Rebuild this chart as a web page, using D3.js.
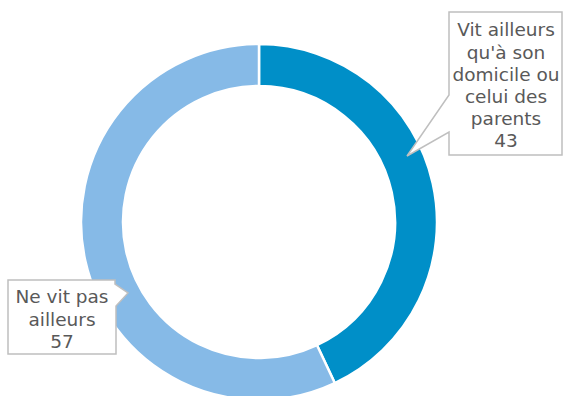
<!DOCTYPE html>
<html>
<head>
<meta charset="utf-8">
<script src="https://cdn.jsdelivr.net/npm/d3@7"></script>
<style>
html,body{margin:0;padding:0;background:#fff;}
svg{display:block;}
text{font-family:"DejaVu Sans",Verdana,sans-serif;}
</style>
</head>
<body>
<svg id="chart" width="563" height="396"></svg>
<script>
const categories = ["Vit ailleurs qu'à son domicile ou celui des parents", "Ne vit pas ailleurs"];
const values = [43, 57];
const labelLines = [["Vit ailleurs", "qu'à son", "domicile ou", "celui des", "parents"], ["Ne vit pas", "ailleurs"]];
const colors = ["#008FC8", "#86BAE7"];

const svg = d3.select("#chart");
const cx = 259, cy = 222, rOuter = 178, rInner = 136;

const pie = d3.pie().sort(null).value(d => d)(values);
const arc = d3.arc().innerRadius(rInner).outerRadius(rOuter);

const g = svg.append("g").attr("transform", `translate(${cx},${cy})`);
g.selectAll("path").data(pie).join("path")
  .attr("d", arc)
  .attr("fill", (d, i) => colors[i])
  .attr("stroke", "#fff")
  .attr("stroke-width", 2.5);

// callouts
const callouts = [
  {path: "M449,12 L562,12 L562,155 L449,155 L449,132 L407,156 L449,95 Z", cx: 506, firstY: 30},
  {path: "M8,280 L115,280 L115,284 L128,293 L116,306 L116,354 L8,354 Z", cx: 62, firstY: 297}
];
const lh = 22.2;
callouts.forEach((c, i) => {
  svg.append("path").attr("d", c.path)
    .attr("fill", "#fff").attr("stroke", "#BFBFBF").attr("stroke-width", 1.5);
  const lines = labelLines[i].concat([String(values[i])]);
  const t = svg.append("text")
    .attr("text-anchor", "middle")
    .attr("fill", "#595959")
    .attr("font-size", 18.5);
  lines.forEach((l, k) => {
    t.append("tspan").attr("x", c.cx).attr("y", c.firstY + k * lh)
      .attr("dy", "0.35em").text(l);
  });
});
</script>
</body>
</html>
